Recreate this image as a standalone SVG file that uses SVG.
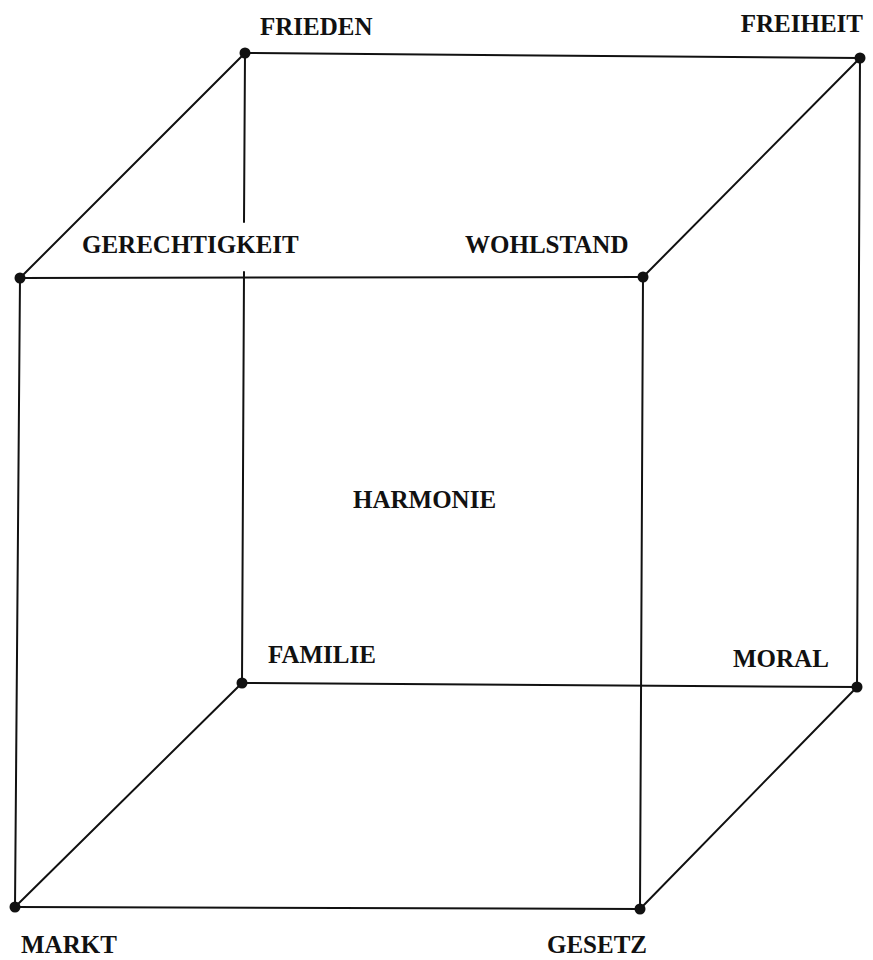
<svg xmlns="http://www.w3.org/2000/svg" width="873" height="960" viewBox="0 0 873 960">
<style>
.e{stroke:#111;stroke-width:2;fill:none;stroke-linecap:round}
.d{fill:#111}
.t{font-family:"Liberation Serif","Times New Roman",serif;font-weight:bold;font-size:25px;fill:#111}
</style>
<rect width="873" height="960" fill="#fff"/>
<g id="connectors">
<line class="e" x1="245" y1="53" x2="860" y2="58"/>
<line class="e" x1="245" y1="53" x2="20" y2="278"/>
<line class="e" x1="860" y1="58" x2="643" y2="277"/>
<line class="e" x1="20" y1="278" x2="643" y2="277"/>
<line class="e" x1="245" y1="53" x2="244" y2="222"/>
<line class="e" x1="244" y1="272" x2="242" y2="683"/>
<line class="e" x1="860" y1="58" x2="857" y2="687"/>
<line class="e" x1="643" y1="277" x2="640" y2="909"/>
<line class="e" x1="20" y1="278" x2="15" y2="907"/>
<line class="e" x1="242" y1="683" x2="857" y2="687"/>
<line class="e" x1="242" y1="683" x2="15" y2="907"/>
<line class="e" x1="857" y1="687" x2="640" y2="909"/>
<line class="e" x1="15" y1="907" x2="640" y2="909"/>
</g>
<g id="frieden"><circle class="d" cx="245" cy="53" r="5.5"/><text class="t" x="260" y="35">FRIEDEN</text></g>
<g id="freiheit"><circle class="d" cx="860" cy="58" r="5.5"/><text class="t" x="863" y="32" text-anchor="end">FREIHEIT</text></g>
<g id="gerechtigkeit"><circle class="d" cx="20" cy="278" r="5.5"/><text class="t" x="82" y="253">GERECHTIGKEIT</text></g>
<g id="wohlstand"><circle class="d" cx="643" cy="277" r="5.5"/><text class="t" x="465" y="253">WOHLSTAND</text></g>
<g id="harmonie"><text class="t" x="353" y="508">HARMONIE</text></g>
<g id="familie"><circle class="d" cx="242" cy="683" r="5.5"/><text class="t" x="268" y="663">FAMILIE</text></g>
<g id="moral"><circle class="d" cx="857" cy="687" r="5.5"/><text class="t" x="733" y="667">MORAL</text></g>
<g id="markt"><circle class="d" cx="15" cy="907" r="5.5"/><text class="t" x="21" y="953">MARKT</text></g>
<g id="gesetz"><circle class="d" cx="640" cy="909" r="5.5"/><text class="t" x="547" y="953">GESETZ</text></g>
</svg>
